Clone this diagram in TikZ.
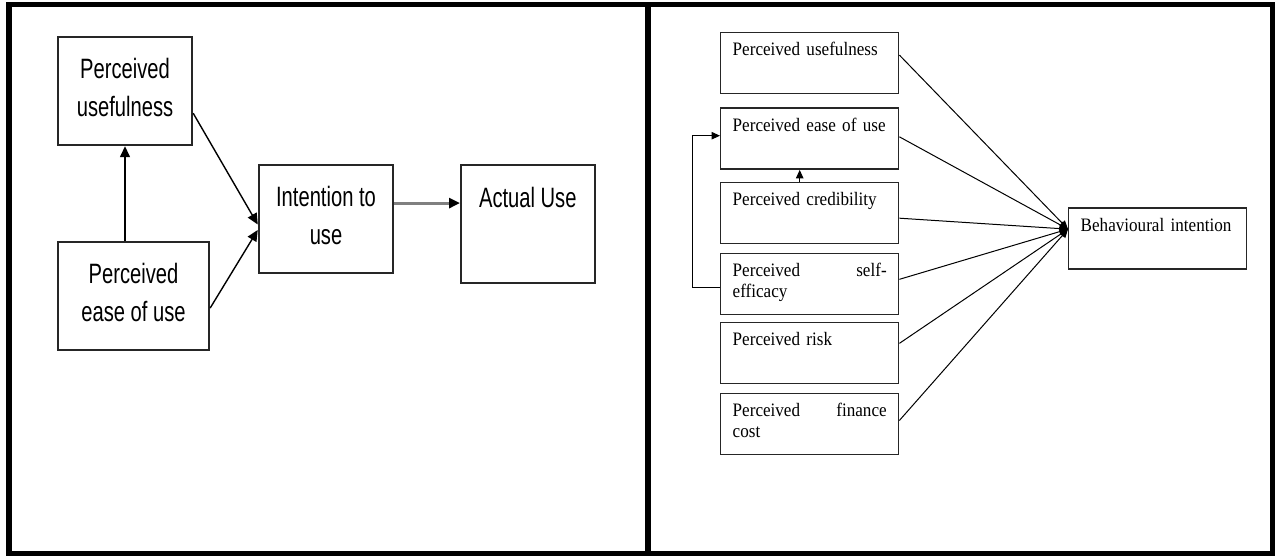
\documentclass[tikz,border=0pt]{standalone}
\usepackage{fontspec}
\usetikzlibrary{calc,arrows.meta}
\newfontfamily\lsans[FakeStretch=0.72]{Liberation Sans}
\newfontfamily\rserif[FakeStretch=0.9]{Liberation Serif}

\tikzset{
	lbox/.style={draw=black!85, line width=1.8pt, align=center, inner sep=0pt, text depth=8pt, font=\lsans\fontsize{28}{38}\selectfont},
	rbox/.style={draw=black!85, line width=1.4pt, anchor=north west, text width=154pt, align=left, inner xsep=12pt, inner ysep=3pt, text height=20pt, text depth=35pt, font=\rserif\fontsize{19}{21}\selectfont},
	larrow/.style={line width=1.4pt, -{Triangle[length=11pt,width=10pt]}},
	rarrow/.style={line width=1pt, -{Triangle[length=8.5pt,width=7.5pt]}},
}

\begin{document}
\begin{tikzpicture}[x=1pt,y=-1pt]
		\useasboundingbox (0,0) rectangle (1279,556);
		%%%%% FRAME %%%%%
		\draw[line width=5.5pt] (9,4.5) rectangle (1272.5,554);
		\draw[line width=6pt] (648,4.5) -- (648,554);
		
		%%%%% LEFT %%%%%
		\node[lbox, minimum width=134.6pt, minimum height=108pt] (lpu) at (125,91.3) {Perceived\\usefulness};
		\node[lbox, minimum width=151.5pt, minimum height=108pt] (lpeou) at (133.5,296) {Perceived\\ease of use};
		\node[lbox, minimum width=134.7pt, minimum height=108pt] (itu) at (326,219) {Intention to\\use};
		\node[lbox, text depth=15pt, minimum width=133.8pt, minimum height=117.7pt] (au) at (527.8,223.8) {Actual Use\\\strut};
		
		\draw[larrow] (lpu.south |- lpeou.north) -- (lpu.south);
		\draw[larrow] ($(lpu.north east)!0.7!(lpu.south east)$) -- ($(itu.north west)!0.55!(itu.south west)$);
		\draw[larrow] ($(lpeou.north east)!0.61!(lpeou.south east)$) -- ($(itu.north west)!0.6!(itu.south west)$);
		\coordinate (itux) at ($(itu.north east)!0.355!(itu.south east)$);
		\draw[line width=3pt, draw=black!50, -{Triangle[length=11pt,width=10pt,color=black]}] (itux) -- (itux -| au.west);
		
		%%%%% RIGHT %%%%%
		\node[rbox] (rpu) at (720,32) {Perceived usefulness};
		\node[rbox] (rpeou) at (720,107.5) {Perceived ease\ of use};
		\node[rbox] (rpc) at (720,182) {Perceived credibility};
		\node[rbox] (rpse) at (720,252.5) {Perceived\hfill self-\\efficacy};
		\node[rbox] (rpr) at (720,321.5) {Perceived risk};
		\node[rbox] (rpfc) at (720,393) {Perceived\hfill finance\\cost};
		\node[rbox] (bi) at (1068,207.3) {Behavioural\ intention};
		
		\coordinate (bin) at ($(bi.north west)!0.35!(bi.south west)$);
		\draw[rarrow] ($(rpu.north east)!0.37!(rpu.south east)$) -- (bin);
		\draw[rarrow] ($(rpeou.north east)!0.47!(rpeou.south east)$) -- (bin);
		\draw[rarrow] ($(rpc.north east)!0.58!(rpc.south east)$) -- (bin);
		\draw[rarrow] ($(rpse.north east)!0.43!(rpse.south east)$) -- (bin);
		\draw[rarrow] ($(rpr.north east)!0.35!(rpr.south east)$) -- (bin);
		\draw[rarrow] ($(rpfc.north east)!0.44!(rpfc.south east)$) -- (bin);
		
		\draw[rarrow] ([xshift=-10pt]rpc.north) -- ([xshift=-10pt]rpeou.south);
		\draw[rarrow] ([yshift=-4pt]rpse.west) -- ++(-28,0) |- ([yshift=3pt]rpeou.west);
		%%%%% END %%%%%
\end{tikzpicture}
\end{document}
